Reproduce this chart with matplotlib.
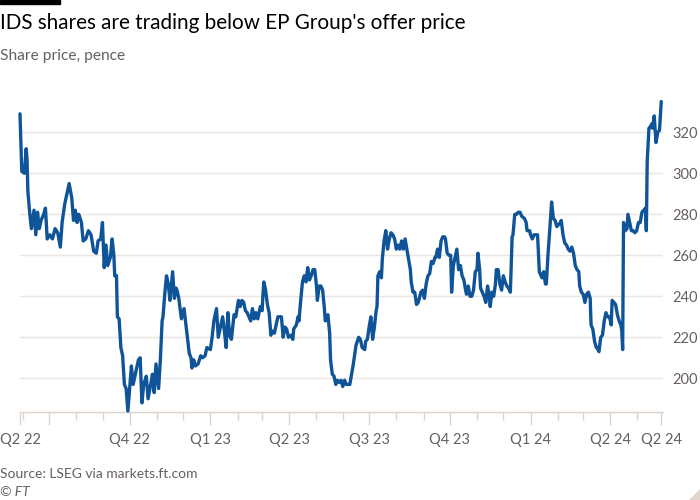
import numpy as np
import pandas as pd
import matplotlib
matplotlib.use("Agg")
import matplotlib.pyplot as plt
from matplotlib.patches import Rectangle, Polygon

INK = "#000000"; MUTED = "#66605c"; GRID = "#ebe5df"; AXIS = "#ddd3ca"; LINE = "#0f5499"
plt.rcParams.update({"font.family": ["Lato", "DejaVu Sans"], "figure.dpi": 100})

START = np.datetime64("2022-05-29")
# days since START, share price in pence
days = [0, 2, 5, 7, 8, 9, 11, 13, 16, 18, 20, 22, 24, 27, 29, 31, 34, 37, 40, 43, 46, 48, 51, 53, 56, 59, 61, 63,
        65, 67, 70, 72, 75, 78, 81, 84, 87, 89, 92, 94, 96, 98, 100, 103, 105, 107, 108, 110, 111, 113, 115, 117,
        119, 121, 123,
        127, 129, 132, 135, 137, 139, 141, 144, 146, 149, 151, 153, 155, 158, 160, 162, 163, 165, 167, 169, 171,
        174, 176, 178, 179, 181, 184, 187, 190, 193, 195, 196, 198, 200, 203, 206, 208, 211, 213, 217, 219, 221,
        224, 226, 228, 231, 233, 235, 237, 239, 241, 244, 246, 249, 251, 253, 255, 257, 259, 261, 263, 265, 267,
        269, 271, 274, 276, 277, 278, 280, 282, 284, 286, 288, 290, 292, 294, 296, 298, 300, 302, 304, 306, 309,
        311, 312, 315, 317, 318, 320, 322, 324, 326, 328, 330, 332, 334, 336, 338, 339, 341, 343, 345, 347, 348,
        351, 353, 354, 356, 358, 360, 362, 364, 366, 368, 370, 372, 376,
        380, 383, 386, 388, 390, 393, 394, 396, 398, 400, 402, 404, 406, 407, 408, 410, 412, 413, 415, 417, 419,
        421, 423, 425, 427, 429, 431, 433, 435, 437, 439, 441, 443, 445, 446, 448, 450, 452, 454, 457, 459, 461,
        463, 465, 467, 469, 471, 473, 474, 476, 478, 480, 482, 484, 485, 487, 489, 491, 492, 494, 498, 500, 502,
        504, 506, 508, 509, 511, 513, 515, 517, 519, 521, 522, 524, 525, 527, 529, 531, 533, 535, 536, 538, 540,
        542, 543, 545, 547, 549, 551, 553, 555, 557, 559, 561, 562, 564, 566, 568, 570, 572, 575, 577, 578, 581,
        582, 584, 586, 588, 590, 592, 594, 595, 597, 599, 600, 602, 604, 606, 608, 610, 612, 614, 616, 617, 619,
        621, 623, 625,
        627, 629, 631, 633, 635, 637, 638, 640, 642, 644, 646, 648, 650, 651, 653, 655, 657, 658, 660, 662, 664,
        666, 668, 670, 672, 674, 675, 677, 679, 681, 683, 685, 686, 687, 688, 690, 692, 693, 695, 697, 699, 701,
        703, 705, 707, 709, 711, 713, 714, 715, 717, 719, 720, 721, 723, 725, 727, 729, 731]
price = [329, 301, 300, 312, 307, 291, 281, 273, 282, 270, 281, 273, 277, 280, 283, 268, 270, 268, 273, 271, 264,
         276, 285, 289, 295, 288, 277, 282, 276, 280, 276, 267, 268, 272, 270, 262, 261, 267, 268, 276, 254, 265,
         255, 259, 268, 260, 250, 250, 230, 229, 215, 211, 197, 195, 184,
         206, 197, 203, 209, 210, 188, 197, 201, 190, 197, 202, 193, 207, 195, 209, 228, 230, 241, 250, 246, 238,
         252, 239, 244, 243, 239, 229, 234, 223, 212, 210, 205, 209, 206, 207, 211, 210, 211, 215, 214, 220, 228,
         234, 220, 224, 230, 223, 215, 232, 221, 219, 231, 230, 238, 235, 238, 237, 233, 232, 230, 228, 234, 229,
         232, 229, 235, 233, 241, 247, 243, 236, 232, 221, 223, 222, 226, 230, 230, 230, 220, 225, 224, 220, 221,
         219, 224, 226, 230, 228, 238, 247, 250, 247, 254, 248, 250, 253, 253, 245, 238, 245, 245, 243, 234, 228,
         231, 222, 209, 202, 201, 197, 199, 198, 199, 196, 199, 197, 197,
         207, 216, 220, 219, 215, 214, 218, 219, 225, 230, 219, 225, 233, 235, 250, 252, 249, 258, 267, 272, 263,
         268, 271, 270, 268, 263, 265, 263, 267, 263, 268, 263, 258, 253, 247, 242, 242, 236, 237, 242, 243, 239,
         246, 250, 251, 257, 256, 259, 259, 263, 259, 267, 269, 269, 268, 261, 260, 260, 242, 255, 263, 253, 255,
         250, 248, 243, 241, 245, 240, 240, 243, 252, 253, 261, 253, 244, 242, 240, 237, 245, 240, 235, 242, 240,
         246, 253, 253, 246, 243, 250, 247, 245, 244, 242, 269, 270, 280, 280, 281, 281, 279, 278, 276, 272, 272,
         270, 268, 270, 270, 270, 252, 250, 249, 252, 246, 246, 261, 273, 286, 278, 277, 274, 275, 276, 277, 270,
         266, 265, 263,
         262, 264, 261, 255, 253, 252, 245, 242, 241, 237, 241, 242, 239, 226, 224, 218, 215, 215, 213, 220, 221,
         228, 232, 230, 230, 226, 238, 237, 236, 231, 228, 226, 223, 214, 276, 272, 273, 280, 276, 272, 272, 271,
         272, 276, 276, 281, 282, 283, 272, 306, 322, 323, 324, 322, 328, 315, 320, 321, 335]

dates = START + np.array(days).astype("timedelta64[D]")

fig = plt.figure(figsize=(7, 5), dpi=100)
ax = fig.add_axes([20/700, 1-411.7/500, 643/700, 312.2/500])
ax.plot(dates, price, color=LINE, lw=2.4, solid_joinstyle="round", solid_capstyle="round", zorder=3, clip_on=False)
ax.set_xlim(START, START + np.timedelta64(733, "D"))
ax.set_ylim(183.7, 336)

# y axis on the right, gridlines only
ax.set_yticks([200, 220, 240, 260, 280, 300, 320])
ax.yaxis.tick_right()
ax.tick_params(axis="y", length=0, pad=7, labelsize=10.5, labelcolor=MUTED)
ax.grid(axis="y", color=GRID, lw=1)
ax.set_axisbelow(True)
for s in ("top", "right", "left"):
    ax.spines[s].set_visible(False)
ax.spines["bottom"].set_color(AXIS)
ax.spines["bottom"].set_linewidth(1)

# x ticks: months short, quarters long, quarters labelled
months = pd.date_range("2022-06-01", "2024-05-01", freq="MS")
end = START + np.timedelta64(731, "D")
major = [START] + [np.datetime64(m.date()) for m in months if m.month in (1, 4, 7, 10)] + [end]
minor = [np.datetime64(m.date()) for m in months if m.month not in (1, 4, 7, 10)]
labels = ["Q2 22", "", "Q4 22", "Q1 23", "Q2 23", "Q3 23", "Q4 23", "Q1 24", "Q2 24", "Q2 24"]
ax.set_xticks(major)
ax.set_xticklabels(labels)
ax.set_xticks(minor, minor=True)
ax.tick_params(axis="x", which="major", length=9, width=1, color=AXIS, pad=6, labelsize=10.5, labelcolor=MUTED)
ax.tick_params(axis="x", which="minor", length=6, width=1, color=AXIS)

# FT furniture
fig.patches.append(Rectangle((0, 1-4/500), 60/700, 4/500, transform=fig.transFigure, color="black"))
fig.text(0, 1-23/500, "IDS shares are trading below EP Group's offer price", fontsize=14.9, color=INK, va="center")
fig.text(0, 1-56/500, "Share price, pence", fontsize=11.2, color=MUTED, va="center")
fig.text(0, 1-474/500, "Source: LSEG via markets.ft.com", fontsize=10, color=MUTED, va="center")
fig.text(0, 1-492/500, "© FT", fontsize=10, color=MUTED, va="center", style="italic")
fig.patches.append(Polygon([(1, 0), (1, 10/500), (1-10/700, 0)], closed=True, transform=fig.transFigure,
                           color="#e3d7cc"))

fig.savefig("out.png", dpi=100, facecolor="white")
